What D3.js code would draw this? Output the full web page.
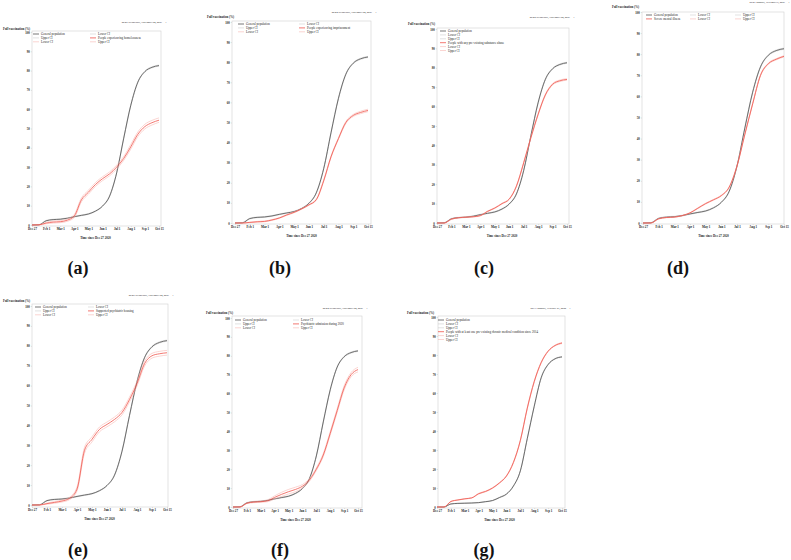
<!DOCTYPE html>
<html><head><meta charset="utf-8">
<script src="https://cdn.jsdelivr.net/npm/d3@7"></script>
<style>body{margin:0;background:#fff;} svg{display:block;}</style>
</head><body>
<svg id="chart" width="791" height="560"></svg>
<script>
// ---------- DATA ----------
const xUnits = [0,0.5,1,1.5,2,2.5,3,3.5,4,4.5,5,5.5,6,6.5,7,7.5,8,8.5,9];
const xTickLabels = ["Dec 27","Feb 1","Mar 1","Apr 1","May 1","Jun 1","Jul 1","Aug 1","Sep 1","Oct 15"];
const yTickValues = [0,10,20,30,40,50,60,70,80,90,100];

const genPop      = [0,0.1,2.2,2.8,3.0,3.5,4.3,5.0,5.7,7.2,9.8,15.0,27.0,45.0,62.0,74.0,79.5,81.7,82.6];
const genPopLower = [0,0.0,2.0,2.6,2.8,3.3,4.1,4.8,5.5,7.0,9.6,14.7,26.7,44.6,61.6,73.7,79.2,81.4,82.3];
const genPopUpper = [0,0.2,2.4,3.0,3.2,3.7,4.5,5.2,5.9,7.4,10.0,15.3,27.3,45.4,62.4,74.3,79.8,82.0,82.9];

const genPopG      = [0,0,1.6,1.9,2.0,2.1,2.3,2.8,3.4,5.0,6.8,11.0,19.0,36.0,53.0,68.0,75.0,78.0,79.0];
const genPopGLower = [0,0,1.5,1.8,1.9,2.0,2.2,2.7,3.3,4.8,6.6,10.8,18.8,35.7,52.7,67.7,74.8,77.8,78.8];
const genPopGUpper = [0,0,1.7,2.0,2.1,2.2,2.4,2.9,3.5,5.2,7.0,11.2,19.2,36.3,53.3,68.3,75.2,78.2,79.2];

const homeless      = [0,0.1,1.0,1.5,1.7,2.5,4.7,13.0,17.0,21.0,24.0,26.5,30.0,34.5,40.5,47.0,51.0,53.0,54.3];
const homelessLower = [0,0.0,0.6,1.0,1.2,1.9,3.9,12.0,16.0,20.0,23.0,25.5,29.0,33.5,39.3,45.8,49.8,51.8,53.2];
const homelessUpper = [0,0.2,1.4,2.0,2.2,3.1,5.5,14.0,18.0,22.0,25.0,27.5,31.0,35.5,41.7,48.2,52.2,54.2,55.5];

const prison      = [0,0,0.3,0.6,0.8,1.5,2.5,4.0,5.3,7.0,9.0,11.6,21.0,33.0,42.0,50.0,53.5,55.0,56.0];
const prisonLower = [0,0,0.2,0.4,0.6,1.3,2.3,3.8,5.1,6.8,8.8,11.3,20.6,32.6,41.6,49.5,53.0,54.4,55.4];
const prisonUpper = [0,0,0.4,0.8,1.0,1.7,2.7,4.2,5.5,7.2,9.2,11.9,21.4,33.4,42.4,50.5,54.0,55.6,56.6];

const substance      = [0,0,2.0,2.7,3.0,3.2,3.8,6.0,7.7,10.0,12.3,19.0,31.0,44.0,56.0,66.0,71.5,73.3,74.0];
const substanceLower = [0,0,1.9,2.6,2.9,3.1,3.7,5.8,7.5,9.8,12.1,18.7,30.7,43.6,55.6,65.6,71.1,72.9,73.6];
const substanceUpper = [0,0,2.1,2.8,3.1,3.3,3.9,6.2,7.9,10.2,12.5,19.3,31.3,44.4,56.4,66.4,71.9,73.7,74.4];

const smi      = [0,0,2.0,2.6,2.8,3.5,4.8,7.0,9.2,11.0,13.0,17.0,27.0,42.0,56.5,70.0,75.5,77.6,79.0];
const smiLower = [0,0,1.9,2.5,2.7,3.4,4.7,6.8,9.0,10.8,12.8,16.8,26.7,41.7,56.2,69.7,75.2,77.3,78.7];
const smiUpper = [0,0,2.1,2.7,2.9,3.6,4.9,7.2,9.4,11.2,13.2,17.2,27.3,42.3,56.8,70.3,75.8,77.9,79.3];

const housing      = [0,0,0.7,1.3,2.0,3.3,8.0,27.5,33.0,38.0,40.5,43.0,46.5,53.0,61.0,71.0,75.0,76.0,76.5];
const housingLower = [0,0,0.4,0.9,1.5,2.7,7.0,26.0,31.7,36.8,39.3,41.8,45.3,51.8,59.8,69.8,73.8,74.8,75.3];
const housingUpper = [0,0.1,1.0,1.7,2.5,3.9,9.0,29.0,34.3,39.2,41.7,44.2,47.7,54.2,62.2,72.2,76.2,77.2,77.7];

const admission      = [0,0,2.0,2.6,2.8,3.3,5.1,6.7,8.1,9.3,11.0,14.3,20.0,27.5,39.0,51.0,63.0,70.0,72.7];
const admissionLower = [0,0,1.8,2.3,2.5,2.8,4.3,5.6,6.9,8.1,10.1,13.6,19.3,26.7,38.1,50.0,61.9,68.9,71.5];
const admissionUpper = [0,0,2.2,2.9,3.1,3.8,5.9,7.8,9.3,10.5,11.9,15.0,20.7,28.3,39.9,52.0,64.1,71.1,73.9];

const chronic      = [0,0,2.9,3.7,4.3,4.8,7.0,8.2,10.0,12.7,16.3,23.4,35.0,52.0,66.0,76.0,82.0,85.0,86.3];
const chronicLower = [0,0,2.8,3.6,4.2,4.7,6.8,8.0,9.8,12.5,16.1,23.1,34.7,51.6,65.6,75.7,81.8,84.8,86.0];
const chronicUpper = [0,0,3.0,3.8,4.4,4.9,7.2,8.4,10.2,12.9,16.5,23.7,35.3,52.4,66.4,76.3,82.2,85.2,86.6];

const groupNames = ["People experiencing homelessness","People experiencing imprisonment",
  "People with any pre-existing substance abuse","Severe mental illness",
  "Supported psychiatric housing","Psychiatric admission during 2020",
  "People with at least one pre-existing chronic medical condition since 2014"];
const headers = ["09:46 Wednesday, November 24, 2021","09:44 Wednesday, November 24, 2021",
  "08:49 Wednesday, November 24, 2021","08:43 Monday, December 6, 2021",
  "08:46 Wednesday, November 24, 2021","09:44 Wednesday, November 24, 2021",
  "09:33 Monday, February 21, 2022"];
const panelLetters = ["(a)","(b)","(c)","(d)","(e)","(f)","(g)"];

// ---------- LAYOUT ----------
const layouts = [
  {frame:[32,161,31,226], xr:[32,159], yr:[225,32], hdY:23, yt:[3,30], cols:2, colX:[33,90], lgY:34, lab:[78,274]},
  {frame:[232,371,21,224], xr:[235,368], yr:[223,22], hdY:13, yt:[207,18], cols:2, colX:[238,299], lgY:24, lab:[280,274]},
  {frame:[437,569,28,224], xr:[437,567], yr:[223,29], hdY:18, yt:[408,25], cols:1, colX:[440], lgY:31, lab:[484,274]},
  {frame:[642,784,12,224], xr:[643,784], yr:[223,12], hdY:3, yt:[612,8], cols:3, colX:[646,690,735], lgY:15, lab:[678,274]},
  {frame:[32,168,304,507], xr:[32,167], yr:[505,306], hdY:296, yt:[3,302], cols:2, colX:[35,88], lgY:307, lab:[78,556]},
  {frame:[232,362,316,508], xr:[233,358], yr:[507,318], hdY:309, yt:[206,314], cols:2, colX:[235,293], lgY:320, lab:[280,556]},
  {frame:[438,565,316,508], xr:[437,562], yr:[507,317], hdY:309, yt:[407,314], cols:1, colX:[438], lgY:320, lab:[484,556]}
];

const panelSeries = [
  [genPop,genPopLower,genPopUpper,homeless,homelessLower,homelessUpper],
  [genPop,genPopLower,genPopUpper,prison,prisonLower,prisonUpper],
  [genPop,genPopLower,genPopUpper,substance,substanceLower,substanceUpper],
  [genPop,genPopLower,genPopUpper,smi,smiLower,smiUpper],
  [genPop,genPopLower,genPopUpper,housing,housingLower,housingUpper],
  [genPop,genPopLower,genPopUpper,admission,admissionLower,admissionUpper],
  [genPopG,genPopGLower,genPopGUpper,chronic,chronicLower,chronicUpper]
];

const styles = [
  {c:"#3c3c3c", w:0.7}, {c:"#c4c4c4", w:0.5}, {c:"#c4c4c4", w:0.5},
  {c:"#f0564c", w:0.8}, {c:"#f7aaa4", w:0.5}, {c:"#f7aaa4", w:0.5}
];
const drawOrder = [1,2,0,4,5,3];
const FONT = "'Liberation Serif','DejaVu Serif',serif";
const FS = 3.1;

const svg = d3.select("#chart");

layouts.forEach((L, pi) => {
  const g = svg.append("g");
  const x = d3.scaleLinear().domain([0,9]).range(L.xr);
  const y = d3.scaleLinear().domain([0,100]).range(L.yr);
  const [fl,fr,ft,fb] = L.frame;

  // header
  g.append("text").attr("x",fr+1).attr("y",L.hdY).attr("text-anchor","end")
    .attr("font-family",FONT).attr("font-size",2.6).attr("fill","#222").text(headers[pi]);
  g.append("text").attr("x",fr+5).attr("y",L.hdY).attr("text-anchor","middle")
    .attr("font-family",FONT).attr("font-size",2.6).attr("fill","#222").text("1");

  // frame
  g.append("rect").attr("x",fl).attr("y",ft).attr("width",fr-fl).attr("height",fb-ft)
    .attr("fill","none").attr("stroke","#cfcfcf").attr("stroke-width",0.6);

  // axes
  const xa = g.append("g").attr("transform",`translate(0,${fb})`)
    .call(d3.axisBottom(x).tickValues(d3.range(10)).tickFormat(i => xTickLabels[i]).tickSize(1.2).tickPadding(1));
  const ya = g.append("g").attr("transform",`translate(${fl},0)`)
    .call(d3.axisLeft(y).tickValues(yTickValues).tickSize(1.2).tickPadding(1));
  [xa,ya].forEach(a => {
    a.select(".domain").remove();
    a.selectAll("line").attr("stroke","#bbb").attr("stroke-width",0.4);
    a.selectAll("text").attr("font-family",FONT).attr("font-size",FS).attr("font-weight","bold").attr("fill","#222");
  });

  // titles
  g.append("text").attr("x",L.yt[0]).attr("y",L.yt[1]).attr("font-family",FONT)
    .attr("font-size",FS).attr("font-weight","bold").attr("fill","#222").text("Full vaccination (%)");
  g.append("text").attr("x",(L.xr[0]+L.xr[1])/2).attr("y",fb+12.5).attr("text-anchor","middle")
    .attr("font-family",FONT).attr("font-size",FS).attr("font-weight","bold").attr("fill","#222")
    .text("Time since Dec 27 2020");

  // lines
  const line = d3.line().x((d,i) => x(xUnits[i])).y(d => y(d)).curve(d3.curveMonotoneX);
  const series = panelSeries[pi];
  drawOrder.forEach(si => {
    g.append("path").attr("d", line(series[si])).attr("fill","none")
      .attr("stroke", styles[si].c).attr("stroke-width", styles[si].w);
  });

  // legend
  const labels = ["General population","Lower CI","Upper CI",groupNames[pi],"Lower CI","Upper CI"];
  labels.forEach((t, k) => {
    const col = k % L.cols, row = Math.floor(k / L.cols);
    const lx = L.colX[col], ly = L.lgY + row*3.9;
    g.append("line").attr("x1",lx).attr("x2",lx+6).attr("y1",ly).attr("y2",ly)
      .attr("stroke",styles[k].c).attr("stroke-width",styles[k].w);
    g.append("text").attr("x",lx+8).attr("y",ly+1).attr("font-family",FONT)
      .attr("font-size",FS).attr("fill","#222").text(t);
  });

  // panel letter
  svg.append("text").attr("x",L.lab[0]).attr("y",L.lab[1]).attr("text-anchor","middle")
    .attr("font-family",FONT).attr("font-size",18).attr("font-weight","bold").attr("fill","#111")
    .text(panelLetters[pi]);
});
</script>
</body></html>
